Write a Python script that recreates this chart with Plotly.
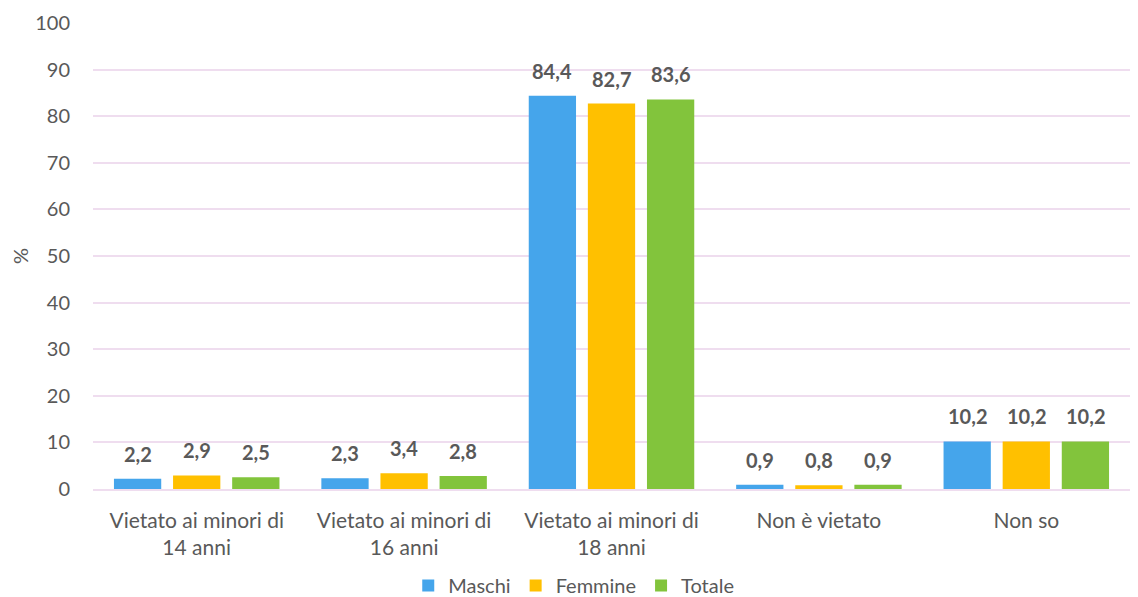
import plotly.graph_objects as go

categorie = ["Vietato ai minori di<br>14 anni", "Vietato ai minori di<br>16 anni",
             "Vietato ai minori di<br>18 anni", "Non è vietato", "Non so"]
maschi = [2.2, 2.3, 84.4, 0.9, 10.2]
femmine = [2.9, 3.4, 82.7, 0.8, 10.2]
totale = [2.5, 2.8, 83.6, 0.9, 10.2]

serie = [("Maschi", maschi, "#45A5EB"),
         ("Femmine", femmine, "#FFC000"),
         ("Totale", totale, "#82C43C")]

BARGAP = 0.145
slot = (1 - BARGAP) / len(serie)

fig = go.Figure()
for k, (nome, valori, colore) in enumerate(serie):
    fig.add_trace(go.Bar(
        x=categorie, y=valori, name=nome,
        marker=dict(color=colore, line=dict(width=0)),
    ))
    # etichette dei valori sopra le barre
    off = (k - 1) * slot
    for i, v in enumerate(valori):
        fig.add_annotation(
            x=i + off, y=v, xref="x", yref="y",
            text="<b>" + f"{v:.1f}".replace(".", ",") + "</b>",
            showarrow=False, yanchor="bottom", yshift=11,
            font=dict(family="Lato", size=20, color="#595959"),
        )

# la pagina ha 8px di margine nel body: la figura parte da (8, 8)
fig.update_layout(
    width=1130, height=589,
    margin=dict(l=85, r=8, t=15, b=108, autoexpand=False),
    paper_bgcolor="white", plot_bgcolor="white",
    font=dict(family="Lato", size=20, color="#595959"),
    barmode="group", bargap=BARGAP, bargroupgap=0.2,
    showlegend=True,
    legend=dict(orientation="h", x=0.304, xanchor="left", y=-0.207, yanchor="middle",
                font=dict(size=20), itemwidth=30, tracegroupgap=0),
)
fig.update_yaxes(range=[0, 100], dtick=10, showgrid=True, gridcolor="#EFDDEF",
                 gridwidth=1.5, zeroline=False, showline=False, ticks="",
                 automargin=False, ticklabelstandoff=22,
                 tickfont=dict(size=20),
                 title=dict(text="%", standoff=28, font=dict(size=20)))
fig.update_xaxes(showline=True, linecolor="#EFDDEF", linewidth=1.5, ticks="",
                 automargin=False, ticklabelstandoff=12,
                 tickfont=dict(size=21))

fig.write_html("out.html")
